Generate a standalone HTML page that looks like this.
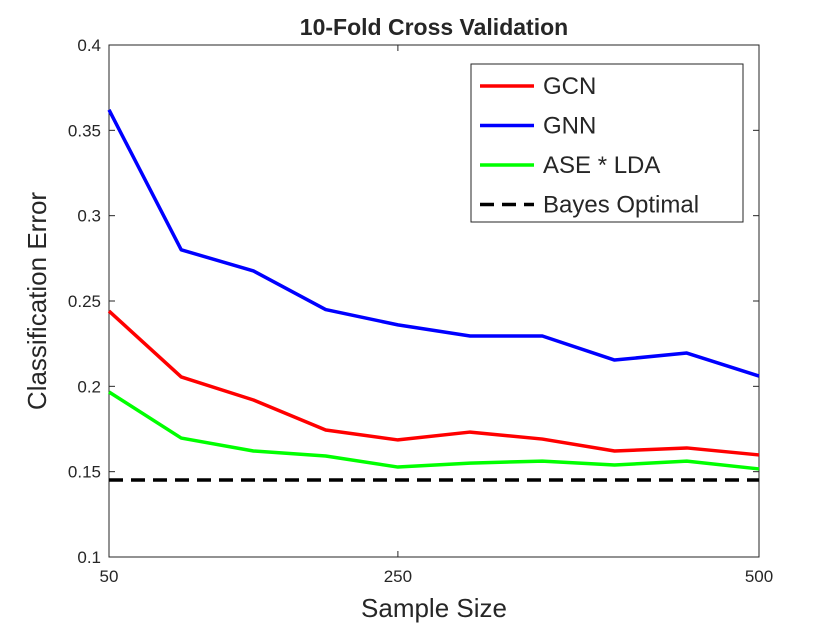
<!DOCTYPE html>
<html><head><meta charset="utf-8"><style>
body{margin:0;background:#fff;}
svg text{font-family:"Liberation Sans",Arial,sans-serif;fill:#262626;}
</style></head><body>
<svg id="chart" width="840" height="630" xmlns="http://www.w3.org/2000/svg"></svg>
<script>
const sampleSizes=[50,100,150,200,250,300,350,400,450,500];
const gcnErr=[0.2441,0.2055,0.192,0.1744,0.1686,0.1732,0.1691,0.1621,0.1639,0.1598];
const gnnErr=[0.362,0.280,0.2676,0.245,0.236,0.2295,0.2295,0.2154,0.2195,0.206];
const aseErr=[0.1967,0.1697,0.1621,0.1592,0.1527,0.155,0.1562,0.1539,0.1562,0.1516];
const bayesErr=0.1451;
const yTicks=[0.1,0.15,0.2,0.25,0.3,0.35,0.4];
const yTickLabels=["0.1","0.15","0.2","0.25","0.3","0.35","0.4"];
const xTicks=[50,250,500];
const xTickLabels=["50","250","500"];
const ns="http://www.w3.org/2000/svg";
const svg=document.getElementById('chart');
const L=109,R=759,T=45,B=557;
const xs=v=>L+(v-50)/(500-50)*(R-L);
const ys=v=>B-(v-0.1)/(0.4-0.1)*(B-T);
function mk(tag,attrs,parent){const e=document.createElementNS(ns,tag);for(const k in attrs)e.setAttribute(k,attrs[k]);(parent||svg).appendChild(e);return e;}
const title=mk('text',{x:(L+R)/2,y:35,'text-anchor':'middle','font-size':23,'font-weight':'bold'});
title.textContent='10-Fold Cross Validation';


const frame=mk('rect',{x:L,y:T,width:R-L,height:B-T,fill:'none',stroke:'#262626','stroke-width':1});


yTicks.forEach((v,i)=>{
  const y=ys(v);
  mk('line',{x1:L,x2:L+6,y1:y,y2:y,stroke:'#262626'});
  mk('line',{x1:R,x2:R-6,y1:y,y2:y,stroke:'#262626'});
  const t=mk('text',{x:L-8,y:y+6,'text-anchor':'end','font-size':17});
  t.textContent=yTickLabels[i];
  
  
});
xTicks.forEach((v,i)=>{
  const x=xs(v);
  mk('line',{x1:x,x2:x,y1:B,y2:B-6,stroke:'#262626'});
  mk('line',{x1:x,x2:x,y1:T,y2:T+6,stroke:'#262626'});
  const t=mk('text',{x:x,y:B+25,'text-anchor':'middle','font-size':17});
  t.textContent=xTickLabels[i];
  
  
});
const xl=mk('text',{x:(L+R)/2,y:617,'text-anchor':'middle','font-size':26});
xl.textContent='Sample Size';


const yl=mk('text',{x:0,y:0,'text-anchor':'middle','font-size':26,transform:`translate(46,${(T+B)/2}) rotate(-90)`});
yl.textContent='Classification Error';


const bl=mk('line',{x1:L,x2:R,y1:ys(bayesErr),y2:ys(bayesErr),stroke:'#000','stroke-width':3.5,'stroke-dasharray':'14 8'});


function series(vals,color,name){
  const p=mk('polyline',{points:vals.map((v,i)=>xs(sampleSizes[i])+','+ys(v)).join(' '),fill:'none',stroke:color,'stroke-width':3.5,'stroke-linejoin':'round'});
  
  
}
series(aseErr,'#00ff00','ase-lda-line');
series(gcnErr,'#ff0000','gcn-line');
series(gnnErr,'#0000ff','gnn-line');
const lg=mk('g',{});


mk('rect',{x:471,y:64,width:272,height:158,fill:'#fff',stroke:'#262626'},lg);
const entries=[['GCN','#ff0000',''],['GNN','#0000ff',''],['ASE * LDA','#00ff00',''],['Bayes Optimal','#000','14 8']];
entries.forEach((e,i)=>{
  const y=86+i*39.5;
  mk('line',{x1:480,x2:534,y1:y,y2:y,stroke:e[1],'stroke-width':3.5,'stroke-dasharray':e[2]||'none'},lg);
  const t=mk('text',{x:543,y:y+8,'font-size':24},lg);
  t.textContent=e[0];
  
  
});
</script>
</body></html>
